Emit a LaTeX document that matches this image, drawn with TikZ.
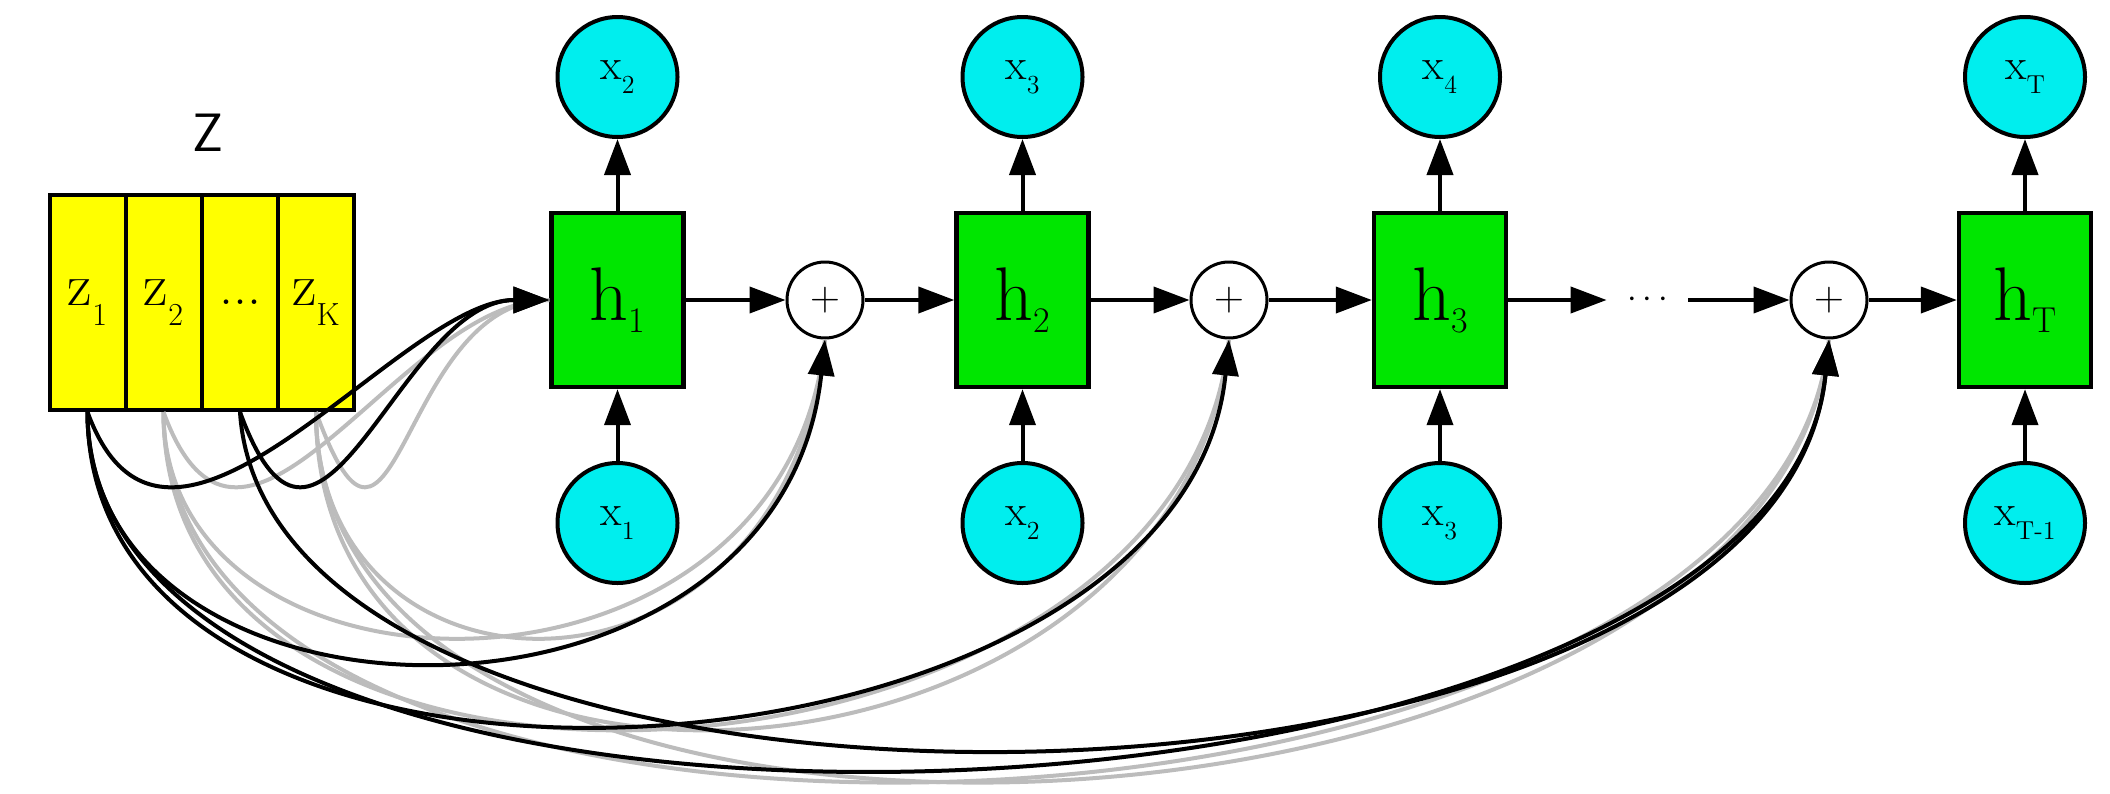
\documentclass[tikz,border=0pt]{standalone}
\usetikzlibrary{arrows.meta}
\definecolor{zyellow}{RGB}{255,255,0}
\definecolor{hgreen}{RGB}{0,230,0}
\definecolor{xcyan}{RGB}{0,238,238}
\definecolor{weakline}{RGB}{188,188,188}
% letter with a lowered, smaller index
\newcommand\sublabel[5]{{\fontsize{#1}{#1}\selectfont #2}\raisebox{-#4}{\fontsize{#3}{#3}\selectfont #5}}
\newcommand\hlab[1]{\sublabel{38}{h}{18}{6pt}{#1}}
\newcommand\xlab[1]{\sublabel{22}{x}{13}{7pt}{#1}}
\newcommand\zlab[1]{\sublabel{30}{z}{16}{10pt}{#1}}
\begin{document}
\begin{tikzpicture}[x=0.5pt,y=-0.5pt,
  zcell/.style={draw,line width=2pt,fill=zyellow,minimum width=38pt,minimum height=107.5pt,inner sep=0pt},
  hcell/.style={draw,line width=2.2pt,fill=hgreen,minimum width=66pt,minimum height=87pt,inner sep=0pt},
  xnode/.style={circle,draw,line width=2pt,fill=xcyan,minimum size=60pt,inner sep=0pt},
  addnode/.style={circle,draw,line width=1.5pt,fill=white,minimum size=38pt,inner sep=0pt},
  flow/.style={line width=2pt,-{Triangle[length=18pt,width=13pt]}},
  weak/.style={line width=2pt,draw=weakline},
]
\useasboundingbox (0,0) rectangle (2110,793);

% memory slots
\node (ztitle) at (208,133) {\sffamily\fontsize{27}{27}\selectfont Z};
\node[zcell] (c1) at (87.5,302.5) {\zlab{1}};
\node[zcell] (c2) at (163.5,302.5) {\zlab{2}};
\node[zcell] (c3) at (240,302.5) {\fontsize{28}{28}\selectfont ...};
\node[zcell] (c4) at (316,302.5) {\zlab{K}};

% recurrent states
\node[hcell] (h1) at (617.5,300) {\hlab{1}};
\node[hcell] (h2) at (1022.5,300) {\hlab{2}};
\node[hcell] (h3) at (1440,300) {\hlab{3}};
\node[hcell] (hT) at (2025,300) {\hlab{T}};

% outputs
\node[xnode] (o1) at (617.5,77) {\xlab{2}};
\node[xnode] (o2) at (1022.5,77) {\xlab{3}};
\node[xnode] (o3) at (1440,77) {\xlab{4}};
\node[xnode] (oT) at (2025,77) {\xlab{T}};

% inputs
\node[xnode] (i1) at (617.5,523) {\xlab{1}};
\node[xnode] (i2) at (1022.5,523) {\xlab{2}};
\node[xnode] (i3) at (1440,523) {\xlab{3}};
\node[xnode] (iT) at (2025,523) {\xlab{T-1}};

% additions
\node[addnode] (p1) at (825,300) {\fontsize{20}{20}\selectfont$+$};
\node[addnode] (p2) at (1229,300) {\fontsize{20}{20}\selectfont$+$};
\node[addnode] (p3) at (1829,300) {\fontsize{20}{20}\selectfont$+$};
\node[inner sep=0pt,minimum width=40.5pt] (dots) at (1647.5,300) {\fontsize{17}{17}\selectfont$\cdots$};

% chain
\draw[flow] (h1) -- (p1);
\draw[flow] (p1) -- (h2);
\draw[flow] (h2) -- (p2);
\draw[flow] (p2) -- (h3);
\draw[flow] (h3) -- (dots);
\draw[flow] (dots) -- (p3);
\draw[flow] (p3) -- (hT);
\foreach \s in {1,2,3,T}{
  \draw[flow] (h\s) -- (o\s);
  \draw[flow] (i\s) -- (h\s);
}

% memory reads: weak slots first
\foreach \src in {c2,c4}{
  \draw[weak] (\src.south) .. controls +(80,220) and +(-150,0) .. (h1.west);
  \draw[weak] (\src.south) .. controls +(0,310) and +(-40,390) .. (p1.south);
  \foreach \tgt/\cd in {p2/470,p3/540}
    \draw[weak] (\src.south) .. controls +(0,\cd) and +(-0.1*\cd,\cd) .. (\tgt.south);
}
% strong reads on top
\draw[flow] (c1.south) .. controls +(80,220) and +(-150,0) .. (h1.west);
\draw[flow] (c3.south) .. controls +(80,220) and +(-150,0) .. (h1.west);
\draw[flow] (c1.south) .. controls +(0,340) and +(-45,420) .. (p1.south);
\foreach \tgt/\cd in {p2/462,p3/521}
  \draw[flow] (c1.south) .. controls +(0,\cd) and +(-0.1*\cd,\cd) .. (\tgt.south);
\draw[flow] (c3.south) .. controls +(30,470) and +(-52,521) .. (p3.south);
\end{tikzpicture}
\end{document}
